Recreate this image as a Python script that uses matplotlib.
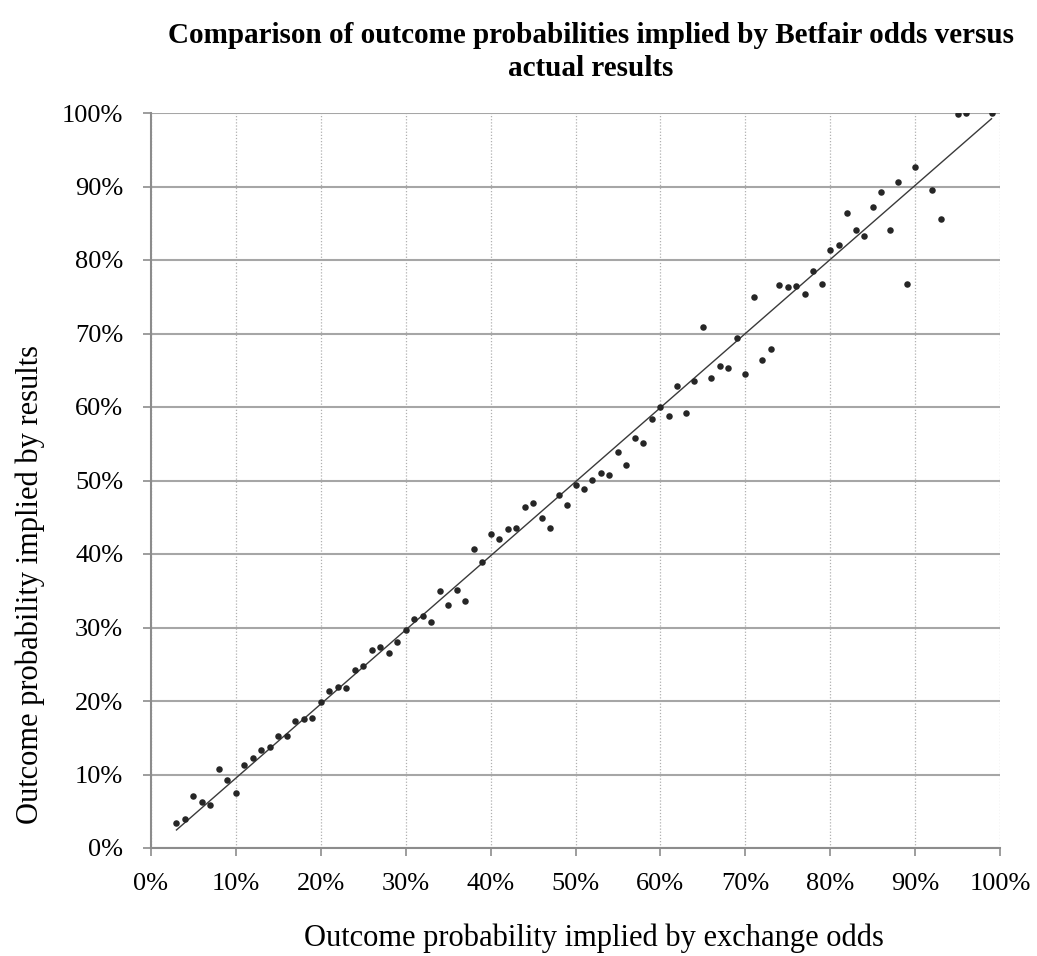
import numpy as np
import matplotlib
matplotlib.use("Agg")
import matplotlib.pyplot as plt
from matplotlib.ticker import FuncFormatter

# Data: outcome probability implied by exchange odds (%) vs implied by results (%)
odds_prob = [3, 4, 5, 6, 7, 8, 9, 10, 11, 12, 13, 14, 15, 16, 17, 18, 19, 20,
             21, 22, 23, 24, 25, 26, 27, 28, 29, 30, 31, 32, 33, 34, 35, 36, 37,
             38, 39, 40, 41, 42, 43, 44, 45, 46, 47, 48, 49, 50, 51, 52, 53, 54,
             55, 56, 57, 58, 59, 60, 61, 62, 63, 64, 65, 66, 67, 68, 69, 70, 71,
             72, 73, 74, 75, 76, 77, 78, 79, 80, 81, 82, 83, 84, 85, 86, 87, 88,
             89, 90, 92, 93, 95, 96, 99]
result_prob = [3.4, 3.9, 7.1, 6.3, 5.8, 10.7, 9.2, 7.5, 11.3, 12.2, 13.4, 13.8,
               15.2, 15.2, 17.3, 17.5, 17.7, 19.9, 21.4, 21.9, 21.8, 24.2, 24.7,
               26.9, 27.3, 26.5, 28.0, 29.7, 31.1, 31.6, 30.8, 34.95, 33.1, 35.1,
               33.6, 40.7, 38.95, 42.7, 42.1, 43.45, 43.5, 46.45, 46.9, 44.95,
               43.5, 48.0, 46.6, 49.45, 48.9, 50.1, 51.05, 50.8, 53.9, 52.1, 55.8,
               55.1, 58.3, 60.05, 58.8, 62.9, 59.2, 63.5, 70.95, 63.9, 65.6, 65.3,
               69.45, 64.5, 74.95, 66.4, 67.95, 76.6, 76.3, 76.4, 75.4, 78.45,
               76.7, 81.4, 82.1, 86.4, 84.1, 83.3, 87.2, 89.3, 84.1, 90.6, 76.8,
               92.6, 89.5, 85.6, 99.8, 99.95, 99.95]
# linear trendline coefficients
trend_slope = 1.008
trend_intercept = -0.57
tick_values = [0, 10, 20, 30, 40, 50, 60, 70, 80, 90, 100]

title = "Comparison of outcome probabilities implied by Betfair odds versus\nactual results"
xlabel = "Outcome probability implied by exchange odds"
ylabel = "Outcome probability implied by results"

plt.rcParams['font.family'] = ['Liberation Serif', 'DejaVu Serif']

fig = plt.figure(figsize=(10.37, 9.56), dpi=100)
W, H = 1037, 956
left, right, top, bottom = 151, 1000, 113, 848
ax = fig.add_axes([left / W, 1 - bottom / H, (right - left) / W, (bottom - top) / H])

x = np.array(odds_prob, dtype=float)
y = np.array(result_prob, dtype=float)

ax.scatter(x, y, s=22, color='#262626', zorder=3, linewidths=0)

xl = np.array([x.min(), x.max()])
ax.plot(xl, trend_slope * xl + trend_intercept, color='#3a3a3a', lw=1.0, zorder=2)

ax.set_xlim(0, 100)
ax.set_ylim(0, 100)
ax.set_xticks(tick_values)
ax.set_yticks(tick_values)
fmt = FuncFormatter(lambda v, p: f"{int(round(v))}%")
ax.xaxis.set_major_formatter(fmt)
ax.yaxis.set_major_formatter(fmt)

ax.grid(axis='y', color='#a6a6a6', lw=1.5, ls='-', zorder=0)
ax.grid(axis='x', color='#b0b0b0', lw=0.9, ls=(0, (1, 1.5)), zorder=0)
ax.set_axisbelow(True)

for s in ['top', 'right']:
    ax.spines[s].set_visible(False)
for s in ['left', 'bottom']:
    ax.spines[s].set_color('#8c8c8c')
    ax.spines[s].set_linewidth(1.5)

ax.tick_params(axis='both', which='major', labelsize=19, color='#8c8c8c',
               length=6, width=1.2, direction='out')
ax.tick_params(axis='x', pad=12)
ax.tick_params(axis='y', pad=14)

ax.set_xlabel(xlabel, fontsize=22)
ax.set_ylabel(ylabel, fontsize=22)
# axis titles positioned as in the reference (pixel centres)
ax.xaxis.set_label_coords((594 - left) / (right - left), (bottom - 938) / (bottom - top))
ax.yaxis.label.set_va('center')
ax.xaxis.label.set_va('center')
ax.yaxis.set_label_coords((30 - left) / (right - left), (bottom - 585) / (bottom - top))

fig.text(591 / W, 1 - 22 / H, title, ha='center', va='top', fontsize=21,
         fontweight='bold', linespacing=1.3)

fig.savefig('out.png', dpi=100)
